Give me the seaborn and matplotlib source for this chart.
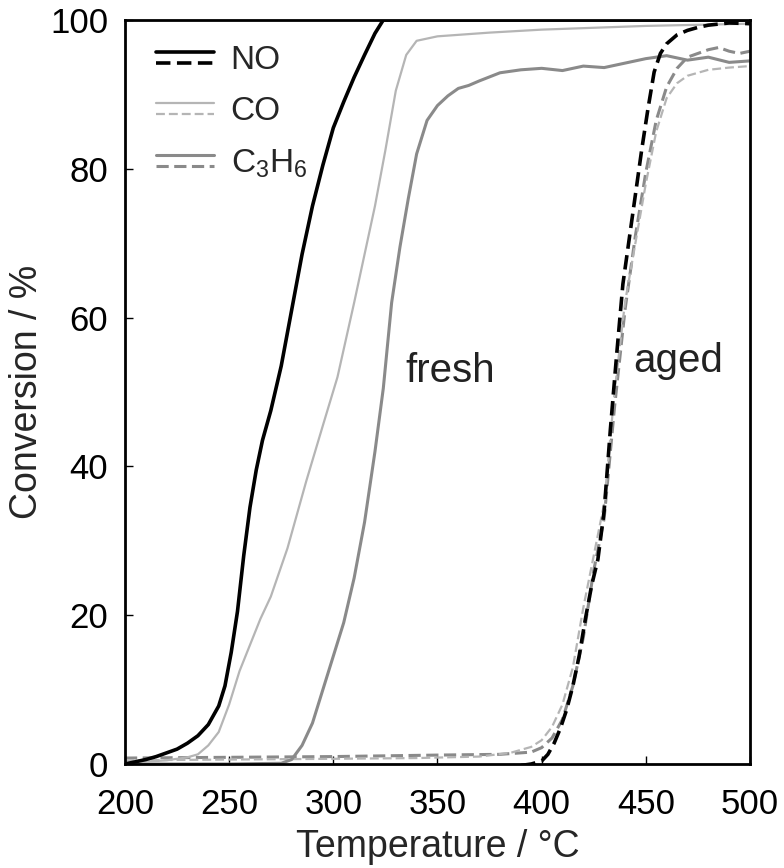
import numpy as np
import pandas as pd
import matplotlib
matplotlib.use("Agg")
import matplotlib.pyplot as plt
import seaborn as sns
from matplotlib.lines import Line2D
from matplotlib.legend_handler import HandlerBase

# ---------------- data ----------------
fresh_no_T = [200, 205, 210, 215, 220, 225, 230, 235, 240, 245, 248, 251, 254, 257, 260, 263, 266, 270,
              275, 280, 285, 290, 295, 300, 305, 310, 315, 320, 324, 330, 350, 400, 450, 500]
fresh_no_V = [0, 0.3, 0.6, 1.0, 1.5, 2.0, 2.8, 3.8, 5.3, 7.8, 10.5, 15, 20.5, 28, 34.5, 39.5, 43.5, 47.5,
              53.5, 61, 68.5, 75, 80.5, 85.5, 89, 92.3, 95.3, 98.2, 100, 100, 100, 100, 100, 100]

fresh_co_T = [200, 210, 220, 225, 230, 235, 240, 245, 250, 255, 260, 265, 270, 278, 287, 295, 302,
              310, 315, 320, 325, 330, 335, 340, 350, 375, 400, 450, 500]
fresh_co_V = [0.2, 0.3, 0.5, 0.7, 0.9, 1.3, 2.5, 4.3, 8, 12.5, 16, 19.5, 22.5, 29, 38, 45.5, 52,
              62, 68.5, 75, 82.5, 90.5, 95.3, 97.2, 97.8, 98.3, 98.7, 99.2, 99.5]

fresh_c3h6_T = [200, 250, 275, 280, 285, 290, 295, 300, 305, 310, 315, 320, 324, 328, 332, 336, 340,
                345, 350, 355, 360, 365, 370, 380, 390, 400, 410, 420, 430, 440, 450, 460, 470, 480, 490, 500]
fresh_c3h6_V = [0, 0, 0.1, 0.6, 2.5, 5.5, 10, 14.5, 19, 25, 32.5, 42, 50.5, 62, 69.5, 76, 82,
                86.5, 88.5, 89.8, 90.8, 91.2, 91.8, 92.9, 93.3, 93.5, 93.2, 93.8, 93.6, 94.2, 94.8, 95.2, 94.6, 95.0, 94.3, 94.5]

aged_no_T = [360, 370, 380, 390, 395, 400, 403, 406, 409, 412, 415, 418, 421, 424, 427, 430, 433, 436,
             439, 442, 445, 448, 451, 454, 457, 460, 465, 470, 475, 480, 490, 500]
aged_no_V = [-0.3, -0.4, -0.3, -0.2, 0, 0.4, 1.3, 2.8, 4.8, 7.3, 10.5, 14.5, 19.5, 24, 27.5, 34, 45, 55,
             64.5, 70.5, 76.5, 82.5, 88, 93, 95.5, 96.8, 98, 98.6, 99, 99.3, 99.6, 99.5]

aged_co_T = [200, 250, 300, 340, 370, 385, 395, 400, 405, 410, 415, 420, 425, 430, 435, 440, 445,
             450, 455, 460, 465, 470, 480, 490, 500]
aged_co_V = [0.5, 0.6, 0.7, 0.8, 1.0, 1.5, 2.3, 3.2, 5, 8, 13, 21, 28, 35, 50, 62, 70,
             78, 85, 89.5, 91.5, 92.5, 93.3, 93.6, 93.8]

aged_c3h6_T = [200, 250, 300, 350, 380, 395, 400, 405, 410, 415, 420, 425, 430, 435, 440, 445, 450,
               455, 460, 465, 470, 475, 480, 485, 490, 495, 500]
aged_c3h6_V = [0.8, 0.9, 1.0, 1.2, 1.3, 1.6, 2.2, 3.5, 6, 10.5, 17, 26, 33, 48, 61, 71, 79.5,
               86.5, 91, 93.5, 95, 95.5, 96, 96.3, 95.8, 95.5, 95.8]

gases = ["NO", "CO", r"C$_\mathregular{3}$H$_\mathregular{6}$"]
states = ["fresh", "aged"]

# ---------------- style ----------------
sns.set_theme(style="white")
plt.rcParams["font.family"] = ["Liberation Sans", "DejaVu Sans"]
plt.rcParams["mathtext.default"] = "regular"

colors = {"NO": "black", "CO": "#b5b5b5", "C3H6": "#8a8a8a"}
widths = {"NO": 2.6, "CO": 1.6, "C3H6": 2.2}

fig = plt.figure(figsize=(7.84, 8.68), dpi=100)
ax = fig.add_axes([0.1594, 0.1198, 0.7972, 0.8572])

series = [
    ("C3H6", "aged", aged_c3h6_T, aged_c3h6_V),
    ("CO", "aged", aged_co_T, aged_co_V),
    ("C3H6", "fresh", fresh_c3h6_T, fresh_c3h6_V),
    ("CO", "fresh", fresh_co_T, fresh_co_V),
    ("NO", "aged", aged_no_T, aged_no_V),
    ("NO", "fresh", fresh_no_T, fresh_no_V),
]
dash = (0, (4, 1.8))
for gas, st, T, V in series:
    df = pd.DataFrame({"T": T, "X": V})
    sns.lineplot(data=df, x="T", y="X", ax=ax, color=colors[gas], lw=widths[gas],
                 linestyle="-" if st == "fresh" else dash, sort=False, estimator=None)

ax.set_xlim(200, 500)
ax.set_ylim(0, 100)
ax.set_xticks([200, 250, 300, 350, 400, 450, 500])
ax.set_yticks([0, 20, 40, 60, 80, 100])
ax.tick_params(axis="both", direction="in", length=6, width=1, colors="black", labelsize=25,
               bottom=True, left=True, top=False, right=False)
ax.tick_params(axis="x", pad=17)
ax.tick_params(axis="y", pad=12)
for s in ax.spines.values():
    s.set_color("black")
    s.set_linewidth(2)

ax.set_xlabel("Temperature / °C", fontsize=27, labelpad=6)
ax.set_ylabel("Conversion / %", fontsize=27, labelpad=4)

ax.text(334.5, 52.8, "fresh", fontsize=29, va="center", ha="left", color="#222222")
ax.text(444, 54.2, "aged", fontsize=29, va="center", ha="left", color="#222222")


class HandlerStack(HandlerBase):
    def create_artists(self, legend, orig_handle, xdescent, ydescent, width, height, fontsize, trans):
        top, bottom = orig_handle
        yc = height / 2 - ydescent
        off = height * 0.24
        l1 = Line2D([-xdescent, width - xdescent], [yc + off, yc + off])
        l1.update_from(top)
        l2 = Line2D([-xdescent, width - xdescent], [yc - off, yc - off])
        l2.update_from(bottom)
        for l in (l1, l2):
            l.set_transform(trans)
        return [l1, l2]


handles = []
for key in ["NO", "CO", "C3H6"]:
    a = Line2D([], [], color=colors[key], lw=widths[key], linestyle="-")
    b = Line2D([], [], color=colors[key], lw=widths[key], linestyle=dash)
    handles.append((a, b))

ax.legend(handles, gases, handler_map={tuple: HandlerStack()}, loc="upper left",
          bbox_to_anchor=(0.049, 0.966), borderpad=0, borderaxespad=0, frameon=False,
          fontsize=24, handlelength=1.75, handletextpad=0.5, labelspacing=0.6)

fig.savefig("out.png", dpi=100)
